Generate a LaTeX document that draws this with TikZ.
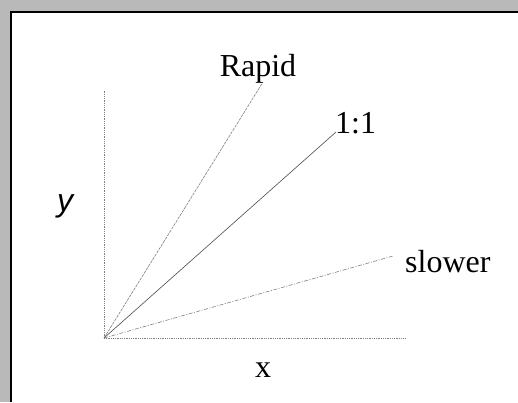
\documentclass[tikz,border=0pt]{standalone}
\usepackage{fontspec}
\setmainfont{Liberation Serif}
\begin{document}
\begin{tikzpicture}[x=1pt,y=-1pt,
  lbl/.style={font=\fontsize{32}{36}\selectfont, inner sep=0pt},
  axis/.style={gray, line width=0.8pt, densely dotted},
  ray/.style={line width=0.6pt}]
\useasboundingbox (0,0) rectangle (518,402);
\fill[white] (0,0) rectangle (518,402);
% shadow bands
\fill[gray!55] (0,0) rectangle (518,11);
\fill[gray!55] (0,0) rectangle (10,402);
\draw[black, line width=2pt] (11,402) -- (11,12) -- (518,12);
% axes
\coordinate (o) at (104,338);
\coordinate (ytop) at (104,90);
\coordinate (xend) at (406,338);
\draw[axis] (o) -- (ytop);
\draw[axis] (o) -- (xend);
% rays
\coordinate (rend) at (263,82);
\coordinate (oend) at (336,132);
\coordinate (send) at (393,256);
\draw[ray, gray, dashed, dash pattern=on 3pt off 1pt] (o) -- (rend);
\draw[ray, black!70] (o) -- (oend);
\draw[ray, gray, dash pattern=on 4pt off 1.5pt on 1pt off 1.5pt] (o) -- (send);
% labels
\node[lbl, anchor=base] (rapid) at (258,76) {Rapid};
\node[lbl, anchor=base west] (one) at (335,133) {1:1};
\node[lbl, anchor=base west] (slow) at (405,272) {slower};
\node[lbl, anchor=base] (ylab) at (65,211) {\fontspec{Liberation Sans}\itshape y};
\node[lbl, anchor=base] (xlab) at (263,377) {x};
\end{tikzpicture}
\end{document}
